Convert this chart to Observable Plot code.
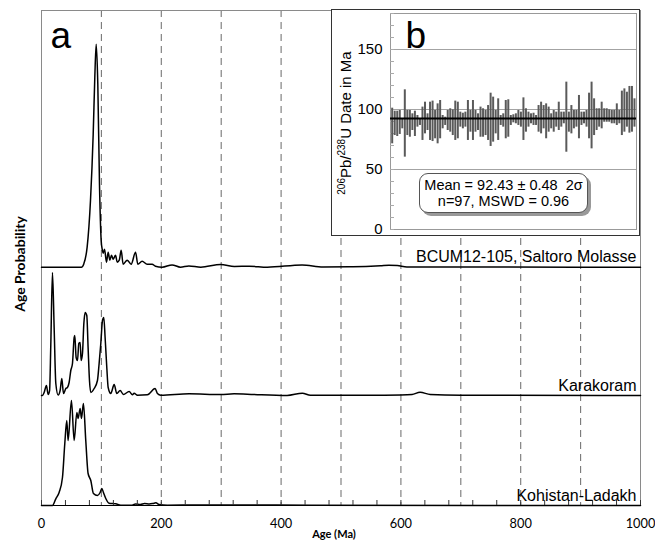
<!DOCTYPE html>
<html><head><meta charset="utf-8">
<script src="https://cdn.jsdelivr.net/npm/d3@7"></script>
<script src="https://cdn.jsdelivr.net/npm/@observablehq/plot@0.6"></script>
<style>
body{margin:0;background:#fff}
#wrap{position:relative;width:655px;height:550px;overflow:hidden;background:#fff}
#inset{position:absolute;left:331px;top:9px;width:309px;height:227px;border:1px solid #333;box-sizing:border-box;background:#fff}
#inset svg{display:block}
#ylab{position:absolute;left:13px;top:113px;transform:translate(-50%,-50%) rotate(-90deg);white-space:nowrap;font:15px "Liberation Sans",Arial,sans-serif;color:#000}
#ylab sup{font-size:10px;vertical-align:6px;line-height:0}
#stats{position:absolute;left:87px;top:163px;width:169px;height:40px;box-sizing:border-box;border:1px solid #555;border-radius:9px;box-shadow:3px 3px 0 #999;background:#fff;text-align:center;font:14.5px "Liberation Sans",Arial,sans-serif;line-height:16px;padding-top:3px;color:#000}
</style></head><body><div id="wrap"></div>
<script>
// ---- Age probability curves (age in Ma, relative probability) ----
const saltoroAge = [0,66.6,70.6,76.2,81.8,86.3,89,91.3,94,96.8,99.6,101.3,103,105.2,108.5,111.3,114.1,116.9,119.7,123.6,126.4,129.8,133,136.3,143,149.7,157,160.8,168,176.4,184.7,190.3,201.4,218,232,246,266,299,322,347,377,435,470,520,566,580,594,610,700,1000];
const saltoroProb = [0,0,3.3,20,67,133,190,223,183,83,27,18,14,18,5,15,7,12,8,12,5,7,17,3,7,3,15,3,6,3,3,1,0,2.3,0,1.3,0,2.7,0.7,1,0,2.3,0.3,0.5,1.5,2,1.7,0.3,0.2,0];

const karakoramAge = [0,1.6,4.4,8.3,11,13.5,15.5,18.3,21.1,23.9,27.8,31.1,33.9,36.7,40.6,43.3,46.1,48.9,51.7,54.5,55.6,57.8,60.1,62.3,64.5,66.2,68.4,70.7,72.9,75.6,77.8,80.1,82.3,87.9,93.4,96.2,99,101.8,104,106.2,109,111.3,115.7,121.3,125.7,131.3,136.8,146.3,151.8,154.6,160.2,176.8,189.6,193.5,199.1,246.4,299.2,321.5,343.7,410,435.5,449,560,600,618.6,632,649,700,1000];
const karakoramProb = [0,0,3,10,1,5,50,123,68,12,0.5,5,17,2,7,8,13,25,32,58,60,38,35,52,53,35,42,72,83,80,48,15,3,7,15,32,52,75,78,58,28,8,2,11,2,5,1,4,0.7,2.3,0.3,0.7,7,2,0.3,1.7,1,1.7,1.3,0,2.3,0.3,0.3,0.5,1,3.3,1,0.3,0];

const kohistanAge = [0,18.3,23.9,29.4,35,38.9,42.2,44.4,50,54.5,59,61.1,64.5,66.7,70,73.9,77.8,82.3,86.7,93.4,97.9,100.7,103.4,107.3,112.9,124,132.3,150,157,165,172,180,186,191,196,210,260,350,450,1000];
const kohistanProb = [0,0,6.7,13,28,62,85,65,105,65,93,87,97,87,102,65,32,25,12,10,13,17,13,7,2.3,1.7,0.3,0.3,1.5,1,2,1.5,2,2.7,1,0.3,0.5,0.5,0.3,0];

const sampleNames = ["BCUM12-105, Saltoro Molasse","Karakoram","Kohistan-Ladakh"];
const majorTicks = [0,200,400,600,800,1000];
const minorTicks = d3.range(0,1001,40);
const dashedAges = [100,200,300,400,500,600,700,800,900];

// ---- Inset b: 206Pb/238U dates, 2-sigma error bars (Ma) ----
const dateHi = [101.1,98.6,98.6,99.2,92.2,116.4,99.2,99.2,96.4,98.6,95.0,92.2,102.0,106.1,96.4,106.1,107.0,99.2,104.7,107.5,95.0,93.6,99.2,100.6,99.7,107.0,106.1,97.8,96.9,97.8,107.5,99.2,107.5,99.2,96.4,102.0,100.6,99.2,103.3,113.6,110.3,99.2,108.9,95.0,96.4,107.5,108.1,95.0,95.6,96.4,99.2,97.8,109.7,100.6,97.8,96.4,96.9,95.0,103.3,106.1,103.3,104.7,102.0,96.4,99.2,97.8,106.1,97.8,97.8,122.8,97.8,103.3,99.2,99.2,111.7,97.8,97.8,99.2,113.6,122.8,108.9,100.6,100.6,106.1,100.6,100.6,99.7,99.2,99.2,104.7,99.2,115.3,117.2,114.4,119.2,119.2,108.9];
const dateLo = [71.4,78.3,77.5,79.2,83.9,60.3,78.3,76.9,82.5,77.5,85.3,86.7,74.2,79.7,82.5,74.2,73.3,75.6,71.4,75.6,83.9,86.7,82.5,81.1,78.3,74.2,75.6,85.3,83.9,85.3,74.2,81.1,74.2,81.1,82.5,76.9,76.9,78.3,74.2,69.2,72.8,79.7,74.2,86.7,85.3,75.6,76.9,86.7,88.9,88.1,86.7,85.3,74.2,81.1,85.3,88.1,86.7,86.7,81.1,79.7,83.9,75.6,81.1,83.9,81.1,85.3,82.5,85.3,88.1,64.4,81.1,79.7,83.9,85.3,75.6,86.7,88.1,85.3,75.6,67.2,78.3,82.5,85.3,83.9,89.4,89.4,89.4,88.1,88.1,86.7,88.1,78.3,81.1,85.3,80.3,81.1,85.3];
const weightedMean = 92.43;
const insetTicks = [0,50,100,150];
const insetMinor = d3.range(0,181,10);

// ---- build tables ----
const curves = [
  {name: sampleNames[0], age: saltoroAge, prob: saltoroProb, off: 238.3},
  {name: sampleNames[1], age: karakoramAge, prob: karakoramProb, off: 110},
  {name: sampleNames[2], age: kohistanAge, prob: kohistanProb, off: 0}
];
const pts = curves.flatMap(c => c.age.map((a,i) => ({name: c.name, age: a, y: c.prob[i] + c.off})));
const bars = dateHi.map((h,i) => ({i: i+1, hi: h, lo: dateLo[i]}));

const main = Plot.plot({
  width: 655, height: 550,
  marginLeft: 41, marginRight: 15, marginTop: 10, marginBottom: 45,
  style: {fontFamily: "Lato, sans-serif", background: "white", overflow: "visible"},
  x: {domain: [0,1000], label: null},
  y: {domain: [0,495], axis: null},
  marks: [
    Plot.ruleX(dashedAges, {stroke: "#777", strokeWidth: 1.1, strokeDasharray: "7,5"}),
    Plot.frame({stroke: "#8a8a8a"}),
    Plot.line(pts, {x: "age", y: "y", z: "name", curve: "monotone-x", stroke: "#000", strokeWidth: 1.5}),
    Plot.ruleY([0], {stroke: "#000", strokeWidth: 1.2}),
    Plot.axisX(minorTicks, {tickSize: 5, dy: -5, tickFormat: () => "", label: null, stroke: "#333"}),
    Plot.axisX(majorTicks, {tickSize: 0, tickPadding: 13, fontSize: 12.8, tickFormat: d => String(d), label: null}),
    Plot.text(curves, {x: () => 1000, y: "off", text: "name", dx: -4, dy: -5, textAnchor: "end", lineAnchor: "bottom", fontSize: 16, fontFamily: "Liberation Sans"}),
    Plot.text(["a"], {frameAnchor: "top-left", dx: 9, dy: 37, textAnchor: "start", lineAnchor: "bottom", fontSize: 37, fontFamily: "Liberation Sans"}),
    Plot.text(["Age Probability"], {frameAnchor: "left", textAnchor: "middle", rotate: -90, dx: -21, dy: 6, fontSize: 14, fontWeight: "bold"}),
    Plot.text(["Age (Ma)"], {frameAnchor: "bottom", dx: -7, dy: 32, fontSize: 11, fontWeight: "bold"})
  ]
});

const inset = Plot.plot({
  width: 307, height: 225,
  marginLeft: 58, marginRight: 3, marginTop: 3, marginBottom: 6,
  style: {fontFamily: "Liberation Sans, Arial, sans-serif", background: "white", overflow: "visible"},
  x: {domain: [0.33, 97.8], axis: null},
  y: {domain: [0,180], axis: null},
  marks: [
    Plot.ruleY(insetTicks.slice(1), {stroke: "#999", strokeWidth: 0.9}),
    Plot.frame({stroke: "#999"}),
    Plot.axisY(insetMinor, {anchor: "left", tickSize: 4, dx: 4, tickFormat: () => "", stroke: "#aaa", label: null}),
    Plot.axisY(insetTicks, {anchor: "left", tickSize: 0, tickPadding: 8, fontSize: 15, label: null}),
    Plot.ruleX(bars, {x: "i", y1: "lo", y2: "hi", stroke: "#5a5a5a", strokeWidth: 2}),
    Plot.ruleY([weightedMean], {stroke: "#000", strokeWidth: 2}),
    Plot.text(["b"], {frameAnchor: "top-left", dx: 15, dy: 34, textAnchor: "start", lineAnchor: "bottom", fontSize: 37})
  ]
});

const wrap = document.getElementById("wrap");
wrap.appendChild(main);
const box = document.createElement("div");
box.id = "inset";
box.appendChild(inset);
const ylab = document.createElement("div");
ylab.id = "ylab";
ylab.innerHTML = "<sup>206</sup>Pb/<sup>238</sup>U Date in Ma";
box.appendChild(ylab);
const stats = document.createElement("div");
stats.id = "stats";
stats.innerHTML = "Mean = 92.43 ± 0.48 &nbsp;2σ<br>n=97, MSWD = 0.96";
box.appendChild(stats);
wrap.appendChild(box);
</script></body></html>
